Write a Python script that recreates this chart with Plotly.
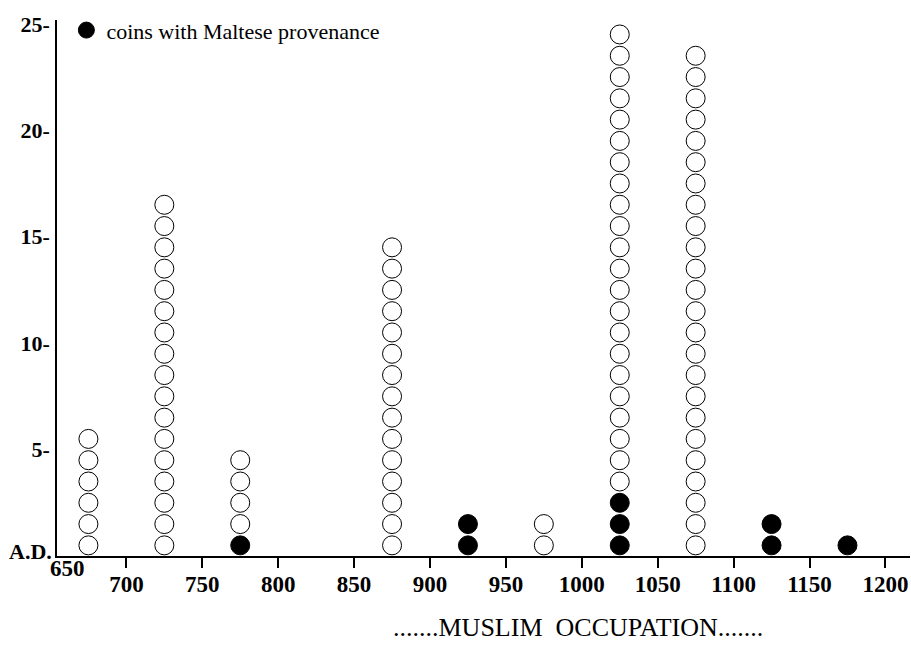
import plotly.graph_objects as go

# Data
bin_centers = [675, 725, 775, 875, 925, 975, 1025, 1075, 1125, 1175]
maltese_counts = [0, 0, 1, 0, 2, 0, 3, 0, 2, 1]
other_counts = [6, 17, 4, 15, 0, 2, 22, 24, 0, 0]
x_tick_vals = [700, 750, 800, 850, 900, 950, 1000, 1050, 1100, 1150, 1200]
y_tick_vals = [5, 10, 15, 20, 25]
y_tick_text = ["5-", "10-", "15-", "20-", "25-"]

# Build stacked dot positions (one dot per coin, stacked from 0.5 upward)
mx, my, ox, oy = [], [], [], []
for c, m, o in zip(bin_centers, maltese_counts, other_counts):
    for i in range(m):
        mx.append(c)
        my.append(i + 0.5)
    for i in range(o):
        ox.append(c)
        oy.append(m + i + 0.5)

serif = "Liberation Serif, Times New Roman, serif"

fig = go.Figure()
fig.add_trace(go.Scatter(
    x=ox, y=oy, mode="markers", showlegend=False,
    marker=dict(size=19, color="white", line=dict(color="black", width=1)),
))
fig.add_trace(go.Scatter(
    x=mx, y=my, mode="markers", name="coins with Maltese provenance",
    marker=dict(size=19, color="black", line=dict(color="black", width=1)),
))

fig.update_layout(
    width=911, height=650,
    margin=dict(l=57, r=1, t=20, b=94),
    paper_bgcolor="white", plot_bgcolor="white",
    font=dict(family=serif, color="black"),
    legend=dict(x=0.011, y=1.02, xanchor="left", yanchor="top",
                font=dict(size=22, family=serif), bgcolor="rgba(0,0,0,0)",
                itemsizing="trace"),
    xaxis=dict(range=[654.3, 1216.2], tickvals=x_tick_vals,
               ticks="outside", ticklen=10, tickwidth=1.5, tickcolor="black",
               ticklabelstandoff=-4,
               showgrid=False, zeroline=False,
               showline=True, linecolor="black", linewidth=2,
               tickfont=dict(size=23, family=serif, weight="bold")),
    yaxis=dict(range=[0, 25.18], tickvals=y_tick_vals, ticktext=y_tick_text,
               ticks="", ticklabelstandoff=1,
               showgrid=False, zeroline=False,
               showline=True, linecolor="black", linewidth=1.5,
               tickfont=dict(size=22, family=serif, weight="bold")),
    annotations=[
        dict(text="<b>650</b>", x=67, y=568, xref="paper", yref="paper",
             xanchor="center", yanchor="middle",
             showarrow=False, font=dict(size=23, family=serif)),
        dict(text="<b>A.D.</b>", x=30, y=551, xref="paper", yref="paper",
             xanchor="center", yanchor="middle",
             showarrow=False, font=dict(size=22, family=serif)),
        dict(text=".......MUSLIM  OCCUPATION.......", x=578, y=627,
             xref="paper", yref="paper", xanchor="center", yanchor="middle",
             showarrow=False, font=dict(size=26, family=serif)),
    ],
)

# Convert pixel-based annotation positions to paper coordinates
pw = 911 - 57 - 1
ph = 650 - 20 - 94
for a in fig.layout.annotations:
    px, py = a.x, a.y
    a.x = (px - 57) / pw
    a.y = (650 - 94 - py) / ph

fig.write_html("out.html", config={"displayModeBar": False},
               post_script="document.body.style.margin='0';document.body.style.overflow='hidden';")
